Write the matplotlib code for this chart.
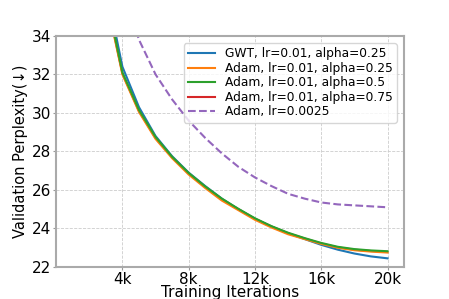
import matplotlib
matplotlib.use("Agg")
import matplotlib.pyplot as plt

# --------------------------------------------------
# DATA
# --------------------------------------------------
iters = [3000, 4000, 5000, 6000, 7000, 8000, 9000, 10000, 11000, 12000,
         13000, 14000, 15000, 16000, 17000, 18000, 19000, 20000]

gwt = [36.6, 32.4, 30.3, 28.8, 27.75, 26.9, 26.2, 25.55, 25.0, 24.5,
       24.1, 23.75, 23.45, 23.15, 22.9, 22.7, 22.55, 22.45]
adam_025 = [36.0, 32.0, 30.05, 28.65, 27.65, 26.8, 26.1, 25.45, 24.95, 24.45,
            24.05, 23.7, 23.45, 23.2, 23.0, 22.87, 22.8, 22.75]
adam_05 = [36.2, 32.1, 30.15, 28.75, 27.72, 26.88, 26.18, 25.55, 25.02, 24.53,
           24.12, 23.78, 23.5, 23.25, 23.05, 22.93, 22.86, 22.82]
adam_075 = [36.1, 32.05, 30.1, 28.7, 27.7, 26.85, 26.15, 25.5, 25.0, 24.5,
            24.1, 23.75, 23.48, 23.22, 23.02, 22.9, 22.83, 22.78]

iters_base = [4000, 5000, 6000, 7000, 8000, 9000, 10000, 11000, 12000,
              13000, 14000, 15000, 16000, 17000, 18000, 19000, 20000]
adam_base = [36.5, 33.8, 32.0, 30.7, 29.6, 28.7, 27.9, 27.2, 26.65,
             26.2, 25.8, 25.55, 25.35, 25.25, 25.2, 25.15, 25.1]

xticks = [4000, 8000, 12000, 16000, 20000]
xtick_labels = ["4k", "8k", "12k", "16k", "20k"]

# --------------------------------------------------
# PLOT
# --------------------------------------------------
fig = plt.figure(figsize=(4.49, 2.99), dpi=100)
ax = fig.add_axes([0.125, 0.107, 0.775, 0.773])

ax.plot(iters, gwt, color="#1f77b4", lw=1.5, label="GWT, lr=0.01, alpha=0.25")
ax.plot(iters, adam_025, color="#ff7f0e", lw=1.5, label="Adam, lr=0.01, alpha=0.25")
ax.plot(iters, adam_075, color="#d62728", lw=1.5, label="Adam, lr=0.01, alpha=0.75", zorder=1)
ax.plot(iters, adam_05, color="#2ca02c", lw=1.5, label="Adam, lr=0.01, alpha=0.5")
ax.plot(iters_base, adam_base, color="#9467bd", lw=1.5, ls="--", label="Adam, lr=0.0025")

ax.set_xlim(0, 21000)
ax.set_ylim(22, 34)
ax.set_xticks(xticks)
ax.set_xticklabels(xtick_labels)
ax.set_yticks([22, 24, 26, 28, 30, 32, 34])
ax.tick_params(labelsize=11, length=2, pad=1.5, color="#999999")

ax.grid(True, ls="--", color="#cccccc", lw=0.6)
for s in ax.spines.values():
    s.set_color("#aaaaaa")
    s.set_linewidth(1.5)

ax.set_xlabel("Training Iterations", fontsize=11, labelpad=-1)
ax.set_ylabel("Validation Perplexity(\u2193)", fontsize=10.5, labelpad=3)

# legend order as in the reference
h, l = ax.get_legend_handles_labels()
order = [0, 1, 3, 2, 4]
ax.legend([h[i] for i in order], [l[i] for i in order], loc="upper right",
          fontsize=8.8, handlelength=2.2, labelspacing=0.12, borderpad=0.35,
          borderaxespad=0.6)

fig.savefig("out.png", dpi=100)
